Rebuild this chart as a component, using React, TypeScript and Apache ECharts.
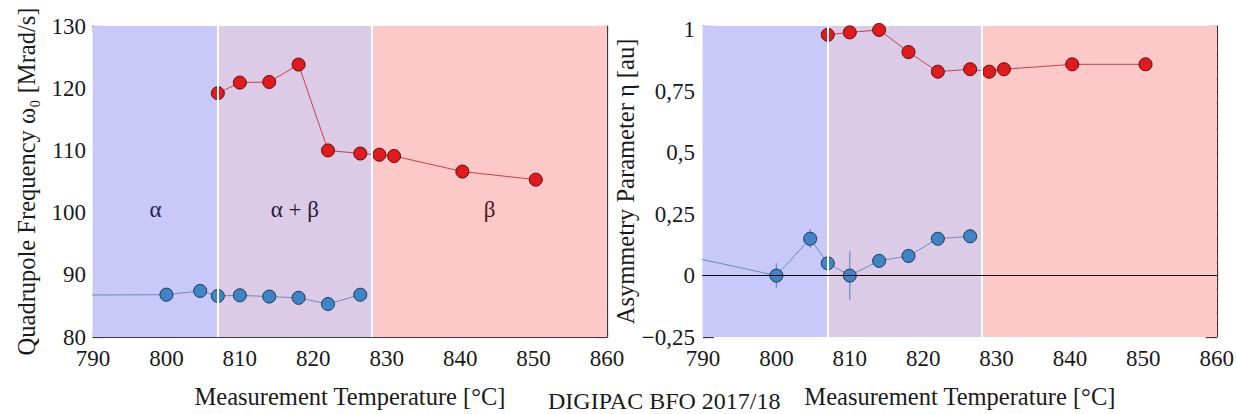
import React, { useEffect, useRef } from 'react';
import * as echarts from 'echarts';

// ---- data ----
const tempMin = 790;
const tempMax = 860;
const tempStep = 10;
const phaseBounds = [807, 828];
const phaseLabels = ['α', 'α + β', 'β'];
const phaseColors = ['#c8c8fa', '#dccbe6', '#fcc8c8'];
const phaseTextColors = ['#1f2456', '#2b1a3a', '#4a1818'];

const freqMin = 80;
const freqMax = 130;
const freqStep = 10;
const freqRedT = [807, 810, 814, 818, 822, 826.4, 829, 831, 840.3, 850.3];
const freqRed = [119.2, 120.9, 121.0, 123.8, 110.0, 109.5, 109.3, 109.1, 106.6, 105.3];
const freqBlueT = [780, 800, 804.6, 807, 810, 814, 818, 822, 826.4];
const freqBlue = [86.7, 86.8, 87.4, 86.6, 86.7, 86.5, 86.3, 85.3, 86.8];

const etaMin = -0.25;
const etaMax = 1.016;
const etaStep = 0.25;
const etaMinorStep = 0.05;
const etaRedT = [807, 810, 814, 818, 822, 826.4, 829, 831, 840.3, 850.3];
const etaRed = [0.98, 0.99, 1.0, 0.91, 0.83, 0.84, 0.83, 0.84, 0.86, 0.86];
const etaBlueT = [780, 800, 804.6, 807, 810, 814, 818, 822, 826.4];
const etaBlue = [0.13, 0, 0.15, 0.05, 0, 0.06, 0.08, 0.15, 0.16];
const etaBlueErr = [0, 0.05, 0.04, 0.04, 0.1, 0.02, 0.02, 0.02, 0.02];

const xName = 'Measurement Temperature [°C]';
const yNameLeft = 'Quadrupole Frequency ω₀ [Mrad/s]';
const yNameRight = 'Asymmetry Parameter η [au]';
const caption = 'DIGIPAC BFO 2017/18';

// ---- style ----
const FONT = 'Liberation Serif';
const AXIS_COLOR = '#3a3a3a';
const TEXT_COLOR = '#1a1a1a';
const BLUE_LINE = '#6a8cba';
const BLUE_FILL = '#3d85c6';
const BLUE_BORDER = '#1e3550';
const RED_LINE = '#c9404a';
const RED_FILL = '#e31a1c';
const RED_BORDER = '#5c0f0f';
const SYMBOL = 13;

const zip = (a: number[], b: number[]) => a.map((v, i) => [v, b[i]]);

const labelStyle = { fontFamily: FONT, fontSize: 23, color: TEXT_COLOR };

function xAxes(gridIndex: number) {
  const common = {
    type: 'value',
    gridIndex,
    min: tempMin,
    max: tempMax,
    interval: tempStep,
    splitLine: { show: false },
    axisLine: { show: true, lineStyle: { color: AXIS_COLOR, width: 1.2 } },
    axisTick: { show: true, inside: true, length: 6, lineStyle: { color: AXIS_COLOR, width: 1.2 } },
    minorTick: { show: true, splitNumber: 2, length: 4, lineStyle: { color: AXIS_COLOR, width: 1.2 } },
    minorSplitLine: { show: false },
  };
  return [
    {
      ...common,
      position: 'bottom',
      name: xName,
      nameLocation: 'middle',
      nameGap: 47,
      nameTextStyle: { fontFamily: FONT, fontSize: 24.5, color: TEXT_COLOR },
      axisLabel: { ...labelStyle, margin: 10 },
    },
    { ...common, position: 'top', axisLabel: { show: false } },
  ];
}

const etaFmt = (v: number) => {
  const r = Math.round(v / etaStep) * etaStep;
  if (Math.abs(r - v) > 1e-6) return '';
  if (Math.abs(r) < 1e-9) return '0';
  return String(r).replace('.', ',').replace('-', '\u2212');
};

export default function App() {
  const ref = useRef<HTMLDivElement>(null);
  useEffect(() => {
    if (!ref.current) return;
    const chart = echarts.init(ref.current, undefined, { renderer: 'svg' });

    const bandData = (withLabels: boolean) => {
      const edges = [tempMin, ...phaseBounds, tempMax];
      return phaseLabels.map((lab, i) => [
        {
          xAxis: edges[i],
          itemStyle: { color: phaseColors[i], opacity: 1 },
          label: withLabels
            ? {
                show: true,
                position: 'inside',
                offset: [0, 28],
                formatter: lab,
                fontFamily: FONT,
                fontSize: 23,
                color: phaseTextColors[i],
              }
            : { show: false },
        },
        { xAxis: edges[i + 1] },
      ]);
    };
    const boundLines = {
      silent: true,
      symbol: 'none',
      label: { show: false },
      lineStyle: { color: '#ffffff', width: 2, type: 'solid' },
      data: phaseBounds.map((b) => ({ xAxis: b })),
    };

    const yTickStyle = { color: AXIS_COLOR, width: 1.2 };
    const yLine = { show: true, lineStyle: { color: AXIS_COLOR, width: 1.2 } };

    const option: any = {
      animation: false,
      backgroundColor: '#ffffff',
      textStyle: { fontFamily: FONT },
      grid: [
        { left: 93, top: 26, width: 514, height: 311 },
        { left: 703, top: 26, width: 515, height: 311 },
      ],
      xAxis: [...xAxes(0), ...xAxes(1)],
      yAxis: [
        {
          type: 'value',
          gridIndex: 0,
          position: 'left',
          min: freqMin,
          max: freqMax,
          interval: freqStep,
          splitLine: { show: false },
          axisLine: yLine,
          axisTick: { show: true, inside: true, length: 11, lineStyle: yTickStyle },
          minorTick: { show: true, splitNumber: 5, length: 6, lineStyle: yTickStyle },
          axisLabel: { ...labelStyle, margin: 7 },
          name: yNameLeft,
          nameLocation: 'middle',
          nameGap: 54,
          nameTextStyle: { fontFamily: FONT, fontSize: 24.5, color: TEXT_COLOR },
        },
        {
          type: 'value',
          gridIndex: 0,
          position: 'right',
          min: freqMin,
          max: freqMax,
          interval: freqStep,
          splitLine: { show: false },
          axisLine: yLine,
          axisTick: { show: true, inside: true, length: 11, lineStyle: yTickStyle },
          minorTick: { show: true, splitNumber: 5, length: 6, lineStyle: yTickStyle },
          axisLabel: { show: false },
        },
        {
          type: 'value',
          gridIndex: 1,
          position: 'left',
          min: etaMin,
          max: etaMax,
          interval: etaStep,
          splitLine: { show: false },
          axisLine: yLine,
          axisTick: { show: true, inside: true, length: 11, lineStyle: yTickStyle },
          axisLabel: { ...labelStyle, margin: 8, formatter: etaFmt },
          name: yNameRight,
          nameLocation: 'middle',
          nameGap: 59,
          nameTextStyle: { fontFamily: FONT, fontSize: 24.5, color: TEXT_COLOR },
        },
        {
          type: 'value',
          gridIndex: 1,
          position: 'left',
          min: etaMin,
          max: etaMax,
          interval: etaMinorStep,
          splitLine: { show: false },
          axisLine: { show: false },
          axisTick: { show: true, inside: true, length: 6, lineStyle: yTickStyle },
          axisLabel: { show: false },
        },
        {
          type: 'value',
          gridIndex: 1,
          position: 'right',
          min: etaMin,
          max: etaMax,
          interval: etaStep,
          splitLine: { show: false },
          axisLine: yLine,
          axisTick: { show: true, inside: true, length: 11, lineStyle: yTickStyle },
          axisLabel: { show: false },
        },
        {
          type: 'value',
          gridIndex: 1,
          position: 'right',
          min: etaMin,
          max: etaMax,
          interval: etaMinorStep,
          splitLine: { show: false },
          axisLine: { show: false },
          axisTick: { show: true, inside: true, length: 6, lineStyle: yTickStyle },
          axisLabel: { show: false },
        },
      ],
      graphic: [
        {
          type: 'text',
          x: 548,
          y: 401,
          style: {
            text: caption,
            fontFamily: FONT,
            fontSize: 24,
            fill: TEXT_COLOR,
            verticalAlign: 'middle',
          },
        },
      ],
      series: [
        {
          type: 'line',
          xAxisIndex: 0,
          yAxisIndex: 0,
          data: [],
          z: 1,
          silent: true,
          markArea: { silent: true, data: bandData(true) },
          markLine: boundLines,
        },
        {
          type: 'line',
          xAxisIndex: 0,
          yAxisIndex: 0,
          z: 3,
          clip: true,
          data: zip(freqBlueT, freqBlue),
          symbol: 'circle',
          symbolSize: SYMBOL,
          lineStyle: { color: BLUE_LINE, width: 1 },
          itemStyle: { color: BLUE_FILL, borderColor: BLUE_BORDER, borderWidth: 1 },
        },
        {
          type: 'line',
          xAxisIndex: 0,
          yAxisIndex: 0,
          z: 3,
          data: zip(freqRedT, freqRed),
          symbol: 'circle',
          symbolSize: SYMBOL,
          lineStyle: { color: RED_LINE, width: 1 },
          itemStyle: { color: RED_FILL, borderColor: RED_BORDER, borderWidth: 1 },
        },
        {
          type: 'line',
          xAxisIndex: 2,
          yAxisIndex: 2,
          data: [],
          z: 1,
          silent: true,
          markArea: { silent: true, data: bandData(false) },
          markLine: boundLines,
        },
        {
          type: 'line',
          xAxisIndex: 2,
          yAxisIndex: 2,
          data: [],
          z: 2,
          silent: true,
          markLine: {
            silent: true,
            symbol: 'none',
            label: { show: false },
            lineStyle: { color: '#000000', width: 1.2, type: 'solid' },
            data: [{ yAxis: 0 }],
          },
        },
        {
          type: 'custom',
          xAxisIndex: 2,
          yAxisIndex: 2,
          z: 3,
          clip: true,
          data: etaBlueT.map((t, i) => [t, etaBlue[i], etaBlueErr[i]]),
          encode: { x: 0, y: 1 },
          renderItem: (_p: any, api: any) => {
            const x = api.value(0);
            const y = api.value(1);
            const e = api.value(2);
            const a = api.coord([x, y - e]);
            const b = api.coord([x, y + e]);
            return {
              type: 'line',
              shape: { x1: a[0], y1: a[1], x2: b[0], y2: b[1] },
              style: { stroke: BLUE_LINE, lineWidth: 1.2 },
            };
          },
        },
        {
          type: 'line',
          xAxisIndex: 2,
          yAxisIndex: 2,
          z: 4,
          clip: true,
          data: zip(etaBlueT, etaBlue),
          symbol: 'circle',
          symbolSize: SYMBOL,
          lineStyle: { color: BLUE_LINE, width: 1 },
          itemStyle: { color: BLUE_FILL, borderColor: BLUE_BORDER, borderWidth: 1 },
        },
        {
          type: 'line',
          xAxisIndex: 2,
          yAxisIndex: 2,
          z: 4,
          data: zip(etaRedT, etaRed),
          symbol: 'circle',
          symbolSize: SYMBOL,
          lineStyle: { color: RED_LINE, width: 1 },
          itemStyle: { color: RED_FILL, borderColor: RED_BORDER, borderWidth: 1 },
        },
      ],
    };
    chart.setOption(option);
    return () => chart.dispose();
  }, []);

  return (
    <div
      ref={ref}
      style={{ position: 'absolute', left: 0, top: 0, width: 1237, height: 414, background: '#fff' }}
    />
  );
}
